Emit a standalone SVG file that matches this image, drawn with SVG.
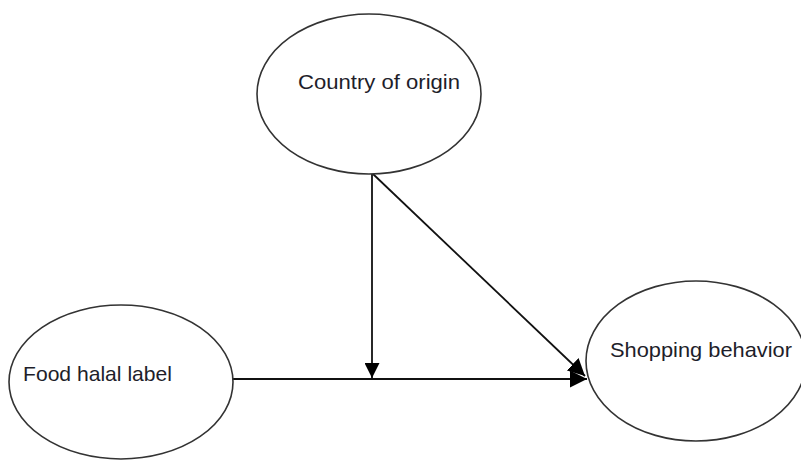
<svg xmlns="http://www.w3.org/2000/svg" width="801" height="461" viewBox="0 0 801 461">
<style>
.node ellipse{fill:#fff;stroke:#333;stroke-width:1.6}
.node text{font-family:"Liberation Sans",Arial,sans-serif;font-size:21px;fill:#1e1e2a}
.edge{stroke:#111;stroke-width:1.8;fill:none}
</style>
<defs>
<marker id="ah" viewBox="0 0 10 10" refX="10" refY="5" markerWidth="15" markerHeight="15" markerUnits="userSpaceOnUse" orient="auto">
<path d="M0,0 L10,5 L0,10 Z" fill="#000"/>
</marker>
<marker id="ahL" viewBox="0 0 10 10" refX="10" refY="5" markerWidth="17" markerHeight="17" markerUnits="userSpaceOnUse" orient="auto">
<path d="M0,0 L10,5 L0,10 Z" fill="#000"/>
</marker>
</defs>
<rect width="801" height="461" fill="#fff"/>
<g id="connectors">
<line class="edge" x1="372" y1="174" x2="372" y2="378" marker-end="url(#ah)"/>
<line class="edge" x1="373" y1="174" x2="585" y2="376" marker-end="url(#ahL)"/>
<line class="edge" x1="233" y1="379" x2="587" y2="379" stroke="#333" stroke-width="2.4" marker-end="url(#ahL)"/>
</g>
<g id="country" class="node">
<ellipse cx="369" cy="94" rx="112" ry="80"/>
<text x="298" y="89" textLength="162" lengthAdjust="spacingAndGlyphs">Country of origin</text>
</g>
<g id="food" class="node">
<ellipse cx="121" cy="382" rx="112" ry="77"/>
<text x="23" y="381" textLength="149" lengthAdjust="spacingAndGlyphs">Food halal label</text>
</g>
<g id="shopping" class="node">
<ellipse cx="696" cy="361" rx="110" ry="80"/>
<text x="610" y="357" textLength="182" lengthAdjust="spacingAndGlyphs">Shopping behavior</text>
</g>
</svg>
